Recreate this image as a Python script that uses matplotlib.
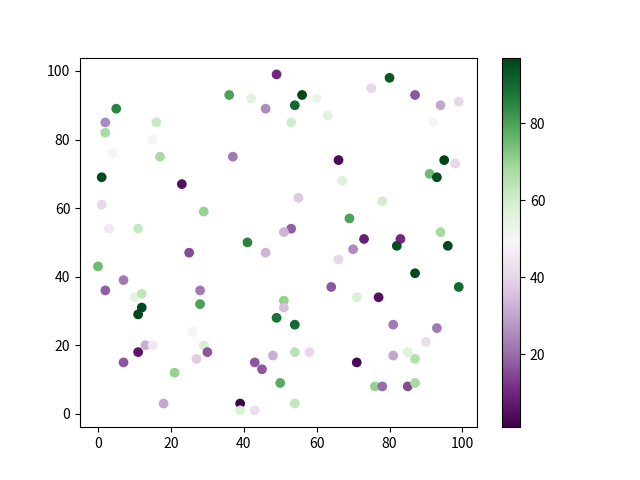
import matplotlib
matplotlib.use("Agg")
import matplotlib.pyplot as plt

plt.rcParams['font.family'] = ['Noto Sans CJK SC', 'DejaVu Sans']

x = [5, 2, 16, 2, 15, 4, 17, 1, 23, 1, 29, 3, 11,
     49, 36, 42, 56, 54, 60, 46, 63, 53, 37, 66, 67, 55, 53, 51, 41,
     80, 75, 87, 94, 99, 92, 95, 98, 91, 93, 78, 69, 94, 73, 83, 82, 96,
     25, 0, 7, 2, 28, 10, 12, 12, 11, 28, 26, 13, 15, 29, 11, 30, 27, 7, 21, 18,
     46, 66, 64, 51, 51, 49, 54, 48, 54, 58, 43, 45, 50, 39, 39, 43, 54,
     70, 87, 99, 71, 77, 81, 93, 90, 81, 85, 87, 71, 76, 78, 85, 87]
y = [89, 85, 85, 82, 80, 76, 75, 69, 67, 61, 59, 54, 54,
     99, 93, 92, 93, 90, 92, 89, 87, 85, 75, 74, 68, 63, 54, 53, 50,
     98, 95, 93, 90, 91, 85, 74, 73, 70, 69, 62, 57, 53, 51, 51, 49, 49,
     47, 43, 39, 36, 36, 34, 35, 31, 29, 32, 24, 20, 20, 20, 18, 18, 16, 15, 12, 3,
     47, 45, 37, 33, 31, 28, 26, 17, 18, 18, 15, 13, 9, 3, 1, 1, 3,
     48, 41, 37, 34, 34, 26, 25, 21, 17, 18, 16, 15, 8, 8, 8, 9]
c = [85, 25, 62, 68, 50, 48, 68, 96, 5, 40, 70, 45, 62,
     10, 80, 56, 96, 90, 53, 25, 56, 60, 22, 3, 57, 37, 18, 33, 85,
     93, 40, 17, 30, 40, 48, 97, 40, 75, 95, 60, 80, 68, 8, 10, 95, 96,
     15, 75, 22, 18, 22, 55, 63, 96, 96, 80, 50, 32, 45, 58, 6, 17, 38, 17, 70, 30,
     33, 40, 17, 70, 35, 88, 90, 32, 65, 40, 17, 17, 78, 1, 58, 42, 63,
     25, 96, 90, 58, 5, 22, 22, 42, 30, 57, 66, 3, 70, 20, 15, 68]

fig, ax = plt.subplots(figsize=(6.4, 4.8), dpi=100)
sc = ax.scatter(x, y, c=c, cmap='PRGn')
fig.colorbar(sc, ax=ax)
fig.savefig('out.png')
